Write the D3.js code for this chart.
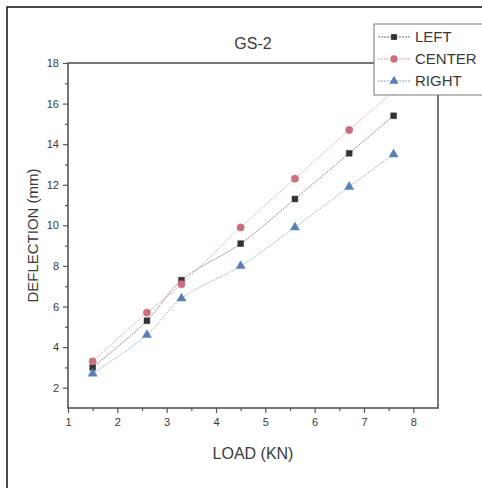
<!DOCTYPE html>
<html>
<head>
<meta charset="utf-8">
<script src="https://cdn.jsdelivr.net/npm/d3@7"></script>
<style>
  body { margin: 0; background: #fff; }
  text { font-family: "Liberation Sans", Arial, sans-serif; fill: #3a3a3a; }
</style>
</head>
<body>
<div class="container"></div>
<script>
// chart data
const loads = [1.5, 2.6, 3.3, 4.5, 5.6, 6.7, 7.6];
const leftVals = [3.0, 5.3, 7.3, 9.1, 11.3, 13.55, 15.4];
const centerVals = [3.3, 5.7, 7.1, 9.9, 12.3, 14.7, 16.6];
const rightVals = [2.7, 4.6, 6.4, 8.0, 9.9, 11.9, 13.5];
const seriesNames = ["LEFT", "CENTER", "RIGHT"];
const xTicks = [1, 2, 3, 4, 5, 6, 7, 8];
const yTicks = [2, 4, 6, 8, 10, 12, 14, 16, 18];

const width = 482;
const height = 488;
const margin = { top: 63, right: 44, bottom: 80, left: 68 };

const svg = d3.select(".container")
  .append("svg")
  .attr("width", width)
  .attr("height", height);

// outer frame of the figure
svg.append("rect")
  .attr("x", 7).attr("y", 7)
  .attr("width", 490).attr("height", 500)
  .attr("fill", "none")
  .attr("stroke", "#111")
  .attr("stroke-width", 1.5);

const xScale = d3.scaleLinear()
  .domain([1, 8.5])
  .range([margin.left, width - margin.right]);

const yScale = d3.scaleLinear()
  .domain([1, 18])
  .range([height - margin.bottom, margin.top]);

// plot frame
svg.append("rect")
  .attr("x", xScale(1)).attr("y", yScale(18))
  .attr("width", xScale(8.5) - xScale(1))
  .attr("height", yScale(1) - yScale(18))
  .attr("fill", "none")
  .attr("stroke", "#555")
  .attr("stroke-width", 1.6);

// bottom axis with major and minor ticks
svg.append("g")
  .attr("transform", `translate(0, ${yScale(1)})`)
  .call(d3.axisBottom(xScale).tickValues(xTicks).tickSize(5).tickPadding(5).tickFormat(d3.format("d")))
  .attr("font-size", "11px");
svg.append("g")
  .attr("transform", `translate(0, ${yScale(1)})`)
  .call(d3.axisBottom(xScale).tickValues(d3.range(1.5, 8.5, 1)).tickSize(3).tickFormat(""));

// left axis with major and minor ticks
svg.append("g")
  .attr("transform", `translate(${xScale(1)}, 0)`)
  .call(d3.axisLeft(yScale).tickValues(yTicks).tickSize(5).tickPadding(4))
  .attr("font-size", "11px");
svg.append("g")
  .attr("transform", `translate(${xScale(1)}, 0)`)
  .call(d3.axisLeft(yScale).tickValues(d3.range(3, 18, 2)).tickSize(3).tickFormat(""));

svg.selectAll(".domain").remove();
svg.selectAll(".tick line").attr("stroke", "#555").attr("stroke-width", 1.2);
svg.selectAll(".tick text").attr("fill", "#444");

// titles
svg.append("text")
  .attr("x", 253).attr("y", 49)
  .attr("text-anchor", "middle")
  .attr("font-size", "16px")
  .text("GS-2");

svg.append("text")
  .attr("x", 253).attr("y", 459)
  .attr("text-anchor", "middle")
  .attr("font-size", "16px")
  .text("LOAD (KN)");

svg.append("text")
  .attr("transform", `translate(38, ${(yScale(1) + yScale(18)) / 2}) rotate(-90)`)
  .attr("text-anchor", "middle")
  .attr("font-size", "15px")
  .text("DEFLECTION (mm)");

const series = [
  { name: seriesNames[0], values: leftVals, color: "#333", fill: "#333", shape: d3.symbolSquare, size: 34 },
  { name: seriesNames[1], values: centerVals, color: "#c9707f", fill: "#c9707f", shape: d3.symbolCircle, size: 42 },
  { name: seriesNames[2], values: rightVals, color: "#5a7fb0", fill: "#5a7fb0", shape: d3.symbolTriangle, size: 36 }
];

const line = d3.line()
  .x((d, i) => xScale(loads[i]))
  .y(d => yScale(d))
  .curve(d3.curveCatmullRom);

series.forEach(s => {
  svg.append("path")
    .datum(s.values)
    .attr("fill", "none")
    .attr("stroke", s.color)
    .attr("stroke-width", 0.7)
    .attr("stroke-opacity", 0.8)
    .attr("stroke-dasharray", "2,1")
    .attr("d", line);

  svg.append("g")
    .selectAll("path")
    .data(s.values)
    .join("path")
    .attr("transform", (d, i) => `translate(${xScale(loads[i])}, ${yScale(d)})`)
    .attr("d", d3.symbol().type(s.shape).size(s.size))
    .attr("fill", s.fill)
    .attr("stroke", s.color)
    .attr("stroke-width", 0.5);
});

// legend box
const legend = svg.append("g");
legend.append("rect")
  .attr("x", 374).attr("y", 24)
  .attr("width", 120).attr("height", 71)
  .attr("fill", "#fff")
  .attr("stroke", "#777")
  .attr("stroke-width", 1);

series.forEach((s, i) => {
  const y = 37 + i * 22;
  legend.append("line")
    .attr("x1", 378).attr("x2", 411)
    .attr("y1", y).attr("y2", y)
    .attr("stroke", s.color)
    .attr("stroke-width", 0.7)
    .attr("stroke-dasharray", "2,1");
  legend.append("path")
    .attr("transform", `translate(394, ${y})`)
    .attr("d", d3.symbol().type(s.shape).size(s.size))
    .attr("fill", s.fill);
  legend.append("text")
    .attr("x", 415).attr("y", y + 5)
    .attr("font-size", "15px")
    .text(s.name);
});
</script>
</body>
</html>
